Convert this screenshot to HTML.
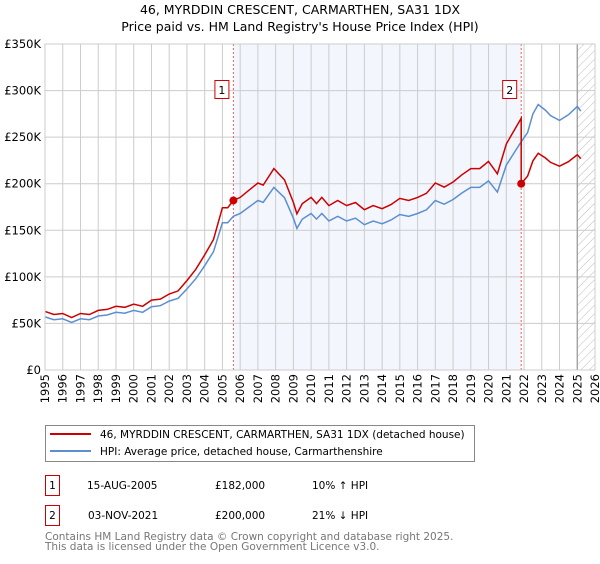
<!DOCTYPE html>
<html><head><meta charset="utf-8"><style>
body{margin:0;background:#fff;font-family:"DejaVu Sans","Liberation Sans",sans-serif;}
svg text{font-family:"DejaVu Sans","Liberation Sans",sans-serif;}
</style></head><body>
<svg id="chart" width="600" height="560" xmlns="http://www.w3.org/2000/svg">
<defs><pattern id="hatch" patternUnits="userSpaceOnUse" width="6" height="6" patternTransform="rotate(45)"><line x1="0" y1="0" x2="0" y2="6" stroke="#bbb" stroke-width="1"/></pattern></defs>
<text x="300" y="14" text-anchor="middle" font-size="12.5">46, MYRDDIN CRESCENT, CARMARTHEN, SA31 1DX</text>
<text x="300" y="31" text-anchor="middle" font-size="12.5">Price paid vs. HM Land Registry's House Price Index (HPI)</text>
<g id="plot"></g>
<g>
<rect x="45.5" y="425.5" width="429" height="36" fill="#fff" stroke="#888"/>
<line x1="50" y1="434" x2="91" y2="434" stroke="#cc0000" stroke-width="2"/>
<text x="100" y="438" font-size="10.5">46, MYRDDIN CRESCENT, CARMARTHEN, SA31 1DX (detached house)</text>
<line x1="50" y1="451" x2="91" y2="451" stroke="#5b8fd0" stroke-width="2"/>
<text x="100" y="455" font-size="10.5">HPI: Average price, detached house, Carmarthenshire</text>
</g>
<g font-size="10.5">
<rect x="45.5" y="475.5" width="14" height="20" fill="#fff" stroke="#cc0000"/>
<text x="52.5" y="489" text-anchor="middle">1</text>
<text x="87" y="489">15-AUG-2005</text><text x="215" y="489">£182,000</text><text x="312" y="489">10% ↑ HPI</text>
<rect x="45.5" y="505.5" width="14" height="20" fill="#fff" stroke="#cc0000"/>
<text x="52.5" y="519" text-anchor="middle">2</text>
<text x="88" y="519">03-NOV-2021</text><text x="215" y="519">£200,000</text><text x="312" y="519">21% ↓ HPI</text>
</g>
<text x="45" y="540" font-size="10.5" fill="#777">Contains HM Land Registry data © Crown copyright and database right 2025.</text>
<text x="45" y="550" font-size="10.5" fill="#777">This data is licensed under the Open Government Licence v3.0.</text>
</svg>
<script>
const hpiYears=[1995,1995.5,1996,1996.5,1997,1997.5,1998,1998.5,1999,1999.5,2000,2000.5,2001,2001.5,2002,2002.5,2003,2003.5,2004,2004.5,2005,2005.3,2005.62,2006,2006.5,2007,2007.3,2007.9,2008.5,2009,2009.2,2009.5,2010,2010.3,2010.6,2011,2011.5,2012,2012.5,2013,2013.5,2014,2014.5,2015,2015.5,2016,2016.5,2017,2017.5,2018,2018.5,2019,2019.5,2020,2020.5,2021,2021.5,2021.84,2022.2,2022.5,2022.8,2023.2,2023.5,2024,2024.5,2025,2025.2];
const hpiValues=[57,54,55,51,55,54,58,59,62,61,64,62,68,69,74,77,87,98,112,127,158,158,165,168,175,182,180,196,185,163,152,162,168,162,168,160,165,160,163,156,160,157,161,167,165,168,172,182,178,183,190,196,196,203,191,220,235,245,255,275,285,279,273,268,274,283,278];
const saleYears=[2005.62,2021.84];
const salePrices=[182,200];
const saleLabels=["1","2"];
const yTicks=[0,50,100,150,200,250,300,350];
const yTickLabels=["£0","£50K","£100K","£150K","£200K","£250K","£300K","£350K"];
const xTicks=[];for(let y=1995;y<=2026;y++)xTicks.push(y);

const X0=45,X1=595,Y0=370,Y1=44;
const xs=t=>X0+(t-1995)/(2026-1995)*(X1-X0);
const ys=v=>Y0-v/350*(Y0-Y1);
const NS="http://www.w3.org/2000/svg";
const g=document.getElementById('plot');
function mk(tag,attrs,parent){const e=document.createElementNS(NS,tag);for(const k in attrs)e.setAttribute(k,attrs[k]);(parent||g).appendChild(e);return e;}
// shaded region between sales
let sh=mk('rect',{x:xs(saleYears[0]),y:Y1,width:xs(saleYears[1])-xs(saleYears[0]),height:Y0-Y1,fill:'#eef2fc',opacity:0.7});


let hz=mk('rect',{x:xs(2025),y:Y1,width:X1-xs(2025),height:Y0-Y1,fill:'url(#hatch)'});


xTicks.forEach(t=>{const l=mk('line',{x1:xs(t),x2:xs(t),y1:Y1,y2:Y0,stroke:'#ccc','stroke-width':1});


const tx=mk('text',{x:0,y:0,'font-size':11.5,'text-anchor':'end',transform:`translate(${xs(t)+4},${Y0+4}) rotate(-90)`});
tx.textContent=t;

});
yTicks.forEach((v,i)=>{const l=mk('line',{x1:X0,x2:X1,y1:ys(v),y2:ys(v),stroke:'#ccc','stroke-width':1});


const tx=mk('text',{x:X0-4,y:ys(v)+4,'font-size':11.5,'text-anchor':'end'});
tx.textContent=yTickLabels[i];

});
let vl=mk('line',{x1:xs(2025),x2:xs(2025),y1:Y1,y2:Y0,stroke:'#999','stroke-width':1.2});


saleYears.forEach((s,i)=>{const l=mk('line',{x1:xs(s),x2:xs(s),y1:Y1,y2:Y0,stroke:'#f06060','stroke-width':1,'stroke-dasharray':'2,2'});

});
function hpiAt(t){for(let i=0;i<hpiYears.length-1;i++){if(t<=hpiYears[i+1]){const f=(t-hpiYears[i])/(hpiYears[i+1]-hpiYears[i]);return hpiValues[i]+f*(hpiValues[i+1]-hpiValues[i]);}}return hpiValues[hpiValues.length-1];}
const r1=salePrices[0]/hpiAt(saleYears[0]),r2=salePrices[1]/hpiAt(saleYears[1]);
let bp='',rp='';
hpiYears.forEach((t,i)=>{bp+=(i?'L':'M')+xs(t).toFixed(1)+','+ys(hpiValues[i]).toFixed(1);});
let first=true;
hpiYears.forEach((t,i)=>{if(t<saleYears[1]){rp+=(first?'M':'L')+xs(t).toFixed(1)+','+ys(hpiValues[i]*r1).toFixed(1);first=false;}});
rp+='L'+xs(saleYears[1]).toFixed(1)+','+ys(hpiAt(saleYears[1])*r1).toFixed(1);
rp+='L'+xs(saleYears[1]).toFixed(1)+','+ys(salePrices[1]).toFixed(1);
hpiYears.forEach((t,i)=>{if(t>saleYears[1])rp+='L'+xs(t).toFixed(1)+','+ys(hpiValues[i]*r2).toFixed(1);});
let bl=mk('path',{d:bp,fill:'none',stroke:'#5b8fd0','stroke-width':1.5});


let rl=mk('path',{d:rp,fill:'none',stroke:'#cc0000','stroke-width':1.5});


saleYears.forEach((s,i)=>{const c=mk('circle',{cx:xs(s),cy:ys(salePrices[i]),r:4,fill:'#cc0000'});


const bx=mk('rect',{x:xs(s)-18.5,y:80.5,width:14,height:18,fill:'#fff',stroke:'#cc0000'});


const tx=mk('text',{x:xs(s)-11.5,y:94,'font-size':11,'text-anchor':'middle'});
tx.textContent=saleLabels[i];

});
let fr=mk('rect',{x:X0,y:Y1,width:X1-X0,height:Y0-Y1,fill:'none',stroke:'#ccc'});


</script>
</body></html>
